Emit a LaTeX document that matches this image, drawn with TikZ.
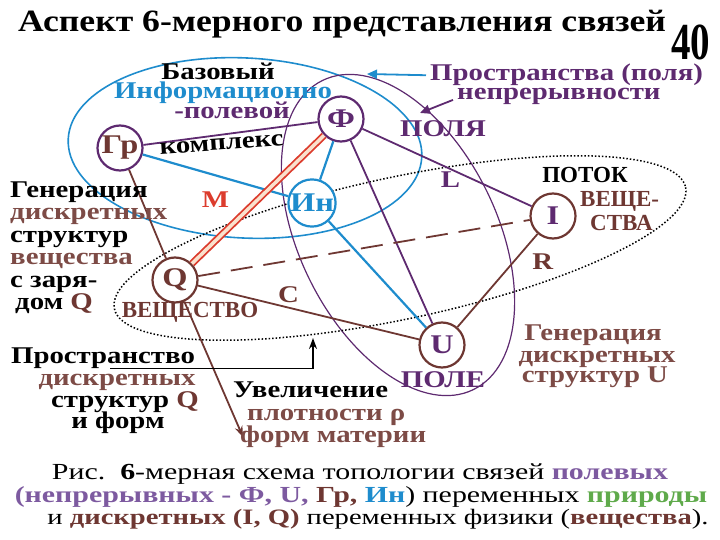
\documentclass[tikz,border=0pt]{standalone}
\usepackage{fontspec}
\setmainfont{Liberation Serif}
\newfontfamily\lblfont[FakeStretch=1.2]{Liberation Serif}
\newfontfamily\ttlfont[FakeStretch=1.15]{Liberation Serif}
\newfontfamily\capfont[FakeStretch=1.3]{Liberation Serif}
\newfontfamily\numfont[FakeStretch=0.75]{Liberation Serif}
\usetikzlibrary{positioning,arrows.meta}
\definecolor{fpurple}{RGB}{94,42,112}
\definecolor{brn}{RGB}{110,55,50}
\definecolor{lbrn}{RGB}{125,75,70}
\definecolor{cblue}{RGB}{30,140,205}
\definecolor{cred}{RGB}{220,60,45}
\definecolor{cream}{RGB}{250,225,205}
\definecolor{lpurple}{RGB}{125,90,160}
\definecolor{cgreen}{RGB}{95,170,75}
\tikzset{
  vtx/.style={circle, draw, line width=2.2pt, minimum size=45pt, inner sep=0pt, fill=white,
    font=\lblfont\bfseries\fontsize{27}{27}\selectfont},
  txt/.style={anchor=base, inner sep=0pt, font=\lblfont\bfseries\fontsize{24}{22}\selectfont},
  caps/.style={txt, font=\rmfamily\bfseries\fontsize{23}{22}\selectfont},
  ttl/.style={anchor=base west, inner sep=0pt, font=\ttlfont\bfseries\fontsize{31}{31}\selectfont},
  captxt/.style={anchor=base, inner sep=0pt, font=\capfont\fontsize{23}{23}\selectfont},
  pline/.style={fpurple, line width=1.8pt},
  bline/.style={cblue, line width=2.2pt},
  wline/.style={brn, line width=1.8pt},
  mline/.style={cred, line width=1.8pt, double=cream, double distance=3.5pt},
}

\begin{document}
\begin{tikzpicture}[x=1pt,y=-1pt]
\useasboundingbox (0,0) rectangle (720,540);

\node[ttl] (title) at (18,32) {Аспект 6-мерного представления связей};
\node[anchor=base west, inner sep=0pt, font=\numfont\bfseries\fontsize{52}{52}\selectfont] (num) at (671,60) {40};

% contours
\draw[cblue, line width=1.6pt] (245,148) ellipse [x radius=177, y radius=90, rotate=-3];
\draw[fpurple, line width=1.2pt] (398,235) ellipse [x radius=172, y radius=99, rotate=-64];
\draw[black, dotted, line width=1.5pt] (400,248) ellipse [x radius=292, y radius=71, rotate=12];

% variables
\node[vtx, draw=fpurple, text=brn] (gr) at (120,148) {Гр};
\node[vtx, draw=fpurple, text=fpurple] (phi) at (341,119) {Ф};
\node[vtx, draw=cblue, text=cblue] (in) at (312,203) {Ин};
\node[vtx, draw=brn, text=brn] (q) at (175,280) {Q};
\node[vtx, draw=brn, text=fpurple] (i) at (553,216) {I};
\node[vtx, draw=brn, text=fpurple] (u) at (442,345) {U};

% links
\draw[pline] (gr) -- (phi);
\draw[bline] (gr) -- (in);
\draw[bline] (phi) -- (in);
\draw[bline] (in) -- (u);
\draw[pline] (phi) -- (u);
\draw[pline] (phi) -- (i) node[pos=0.52, below=2pt, txt, anchor=north, text=fpurple] {L};
\draw[wline] (gr) -- (q);
\draw[wline] (q) -- (u) node[pos=0.41, above=4pt, txt, anchor=south, text=brn] {C};
\draw[wline] (i) -- (u) node[pos=0.3, right=18pt, txt, anchor=west, text=brn] {R};
\draw[wline, dash pattern=on 22pt off 11pt] (q) -- (i);
\draw[mline] (q) -- (phi) node[pos=0.5, left=28pt, txt, anchor=east, text=cred] {M};
\coordinate (rho) at (243,437);
\draw[wline, -{Stealth[length=11pt,width=8pt]}] (q) -- (rho);

% field complex
\node[txt] (baz) at (218,80) {Базовый};
\node[txt, text=cblue] (inf) at (223,99) {Информационно};
\node[txt, text=fpurple] (pol) at (232,119) {-полевой};
\node[txt, rotate=4] (kom) at (222,150) {комплекс};
\node[txt, text=fpurple] (polya) at (443,137) {ПОЛЯ};
\node[txt, text=fpurple] (pole) at (443,387) {ПОЛЕ};
\node[txt, anchor=base west, text=fpurple] (pr) at (430,81) {Пространства (поля)};
\node[txt, anchor=base west, text=fpurple] (nep) at (457,100) {непрерывности};
\coordinate (ba) at (367,74);
\coordinate (pa) at (420,113);
\draw[cblue, line width=1.8pt, -{Triangle[length=10pt,width=9pt]}] ([xshift=-4pt]pr.west) -- (ba);
\draw[fpurple, line width=1.8pt, -{Triangle[length=10pt,width=9pt]}] ([xshift=-4pt,yshift=-3pt]nep.west) -- (pa);

% matter
\node[caps, text=brn] (vesh) at (190,317) {ВЕЩЕСТВО};
\node[caps] (potok) at (585,183) {ПОТОК};
\node[caps, anchor=base west, text=brn] (ve) at (580,207) {ВЕЩЕ-};
\node[caps, anchor=base west, text=brn] (stva) at (590,230) {СТВА};

% left notes
\node[txt, anchor=base west] (g1) at (10,198) {Генерация};
\node[txt, anchor=base west, text=lbrn] (g2) at (10,220) {дискретных};
\node[txt, anchor=base west] (g3) at (10,243) {структур};
\node[txt, anchor=base west, text=lbrn] (g4) at (10,264) {вещества};
\node[txt, anchor=base west] (g5) at (10,287) {с заря-};
\node[txt, anchor=base west] (g6) at (15,309) {дом \textcolor{brn}{Q}};

\node[txt] (psp) at (103,363) {Пространство};
\node[txt, text=lbrn] (p2) at (117,385) {дискретных};
\node[txt] (p3) at (125,407) {структур \textcolor{brn}{Q}};
\node[txt] (p4) at (118,428) {и форм};
\coordinate (up) at (313,338);
\draw[line width=1.6pt, -{Stealth[length=11pt,width=8pt]}] ([xshift=7pt]psp.south) -| (up);

\node[txt, anchor=base west] (uv) at (233,397) {Увеличение};
\node[txt, anchor=base west, text=lbrn] (pl) at (247,420) {плотности ρ};
\node[txt, anchor=base west, text=lbrn] (fm) at (240,442) {форм материи};

% right notes
\node[txt, text=lbrn] (r1) at (593,340) {Генерация};
\node[txt, text=lbrn] (r2) at (597,362) {дискретных};
\node[txt, text=lbrn] (r3) at (595,382) {структур U};

% caption
\node[captxt] (c1) at (360,479) {Рис.~~\textbf{6}-мерная схема топологии связей \textcolor{lpurple}{\textbf{полевых}}};
\node[captxt] (c2) at (361,502) {\textcolor{lpurple}{\textbf{(непрерывных - Ф, U,}} \textcolor{brn}{\textbf{Гр,}} \textcolor{cblue}{\textbf{Ин}}) переменных \textcolor{cgreen}{\textbf{природы}}};
\node[captxt, font=\capfont\fontsize{22}{22}\selectfont] (c3) at (378,524) {и \textcolor{brn}{\textbf{дискретных (I, Q)}} переменных физики (\textcolor{brn}{\textbf{вещества}}).};
\end{tikzpicture}
\end{document}
